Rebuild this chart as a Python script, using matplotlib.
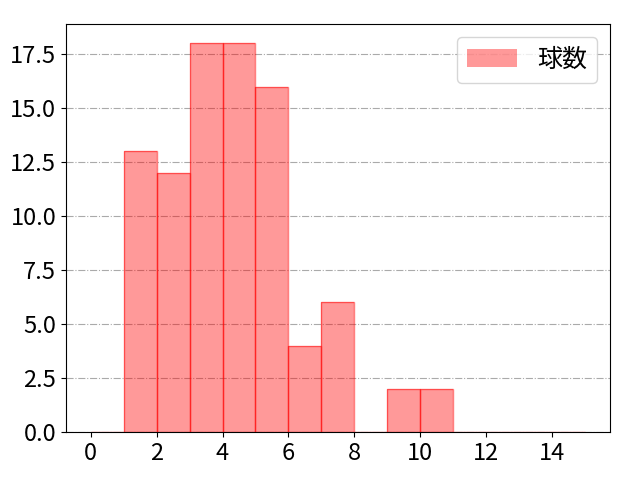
import matplotlib
matplotlib.use('Agg')
import matplotlib.pyplot as plt
import numpy as np

plt.rcParams['font.family'] = ['Noto Sans CJK JP', 'DejaVu Sans']

bin_edges = list(range(0, 16))
counts = [0, 13, 12, 18, 18, 16, 4, 6, 0, 2, 2, 0, 0, 0, 0]
label = '球数'

fig, ax = plt.subplots(figsize=(6.4, 4.8), dpi=100)
ax.hist(bin_edges[:-1], bins=bin_edges, weights=counts,
        color='red', alpha=0.4, label=label)
ax.hist(bin_edges[:-1], bins=bin_edges, weights=counts,
        histtype='bar', facecolor='none', edgecolor='red', alpha=0.5)
ax.set_xticks(range(0, 16, 2))
ax.grid(axis='y', linestyle='-.', color='#aaaaaa')
ax.set_axisbelow(True)
ax.tick_params(labelsize=17)
ax.legend(fontsize=18, loc='upper right')
fig.subplots_adjust(left=0.103, right=0.953, top=0.95, bottom=0.1)
plt.savefig('out.png', dpi=100)
